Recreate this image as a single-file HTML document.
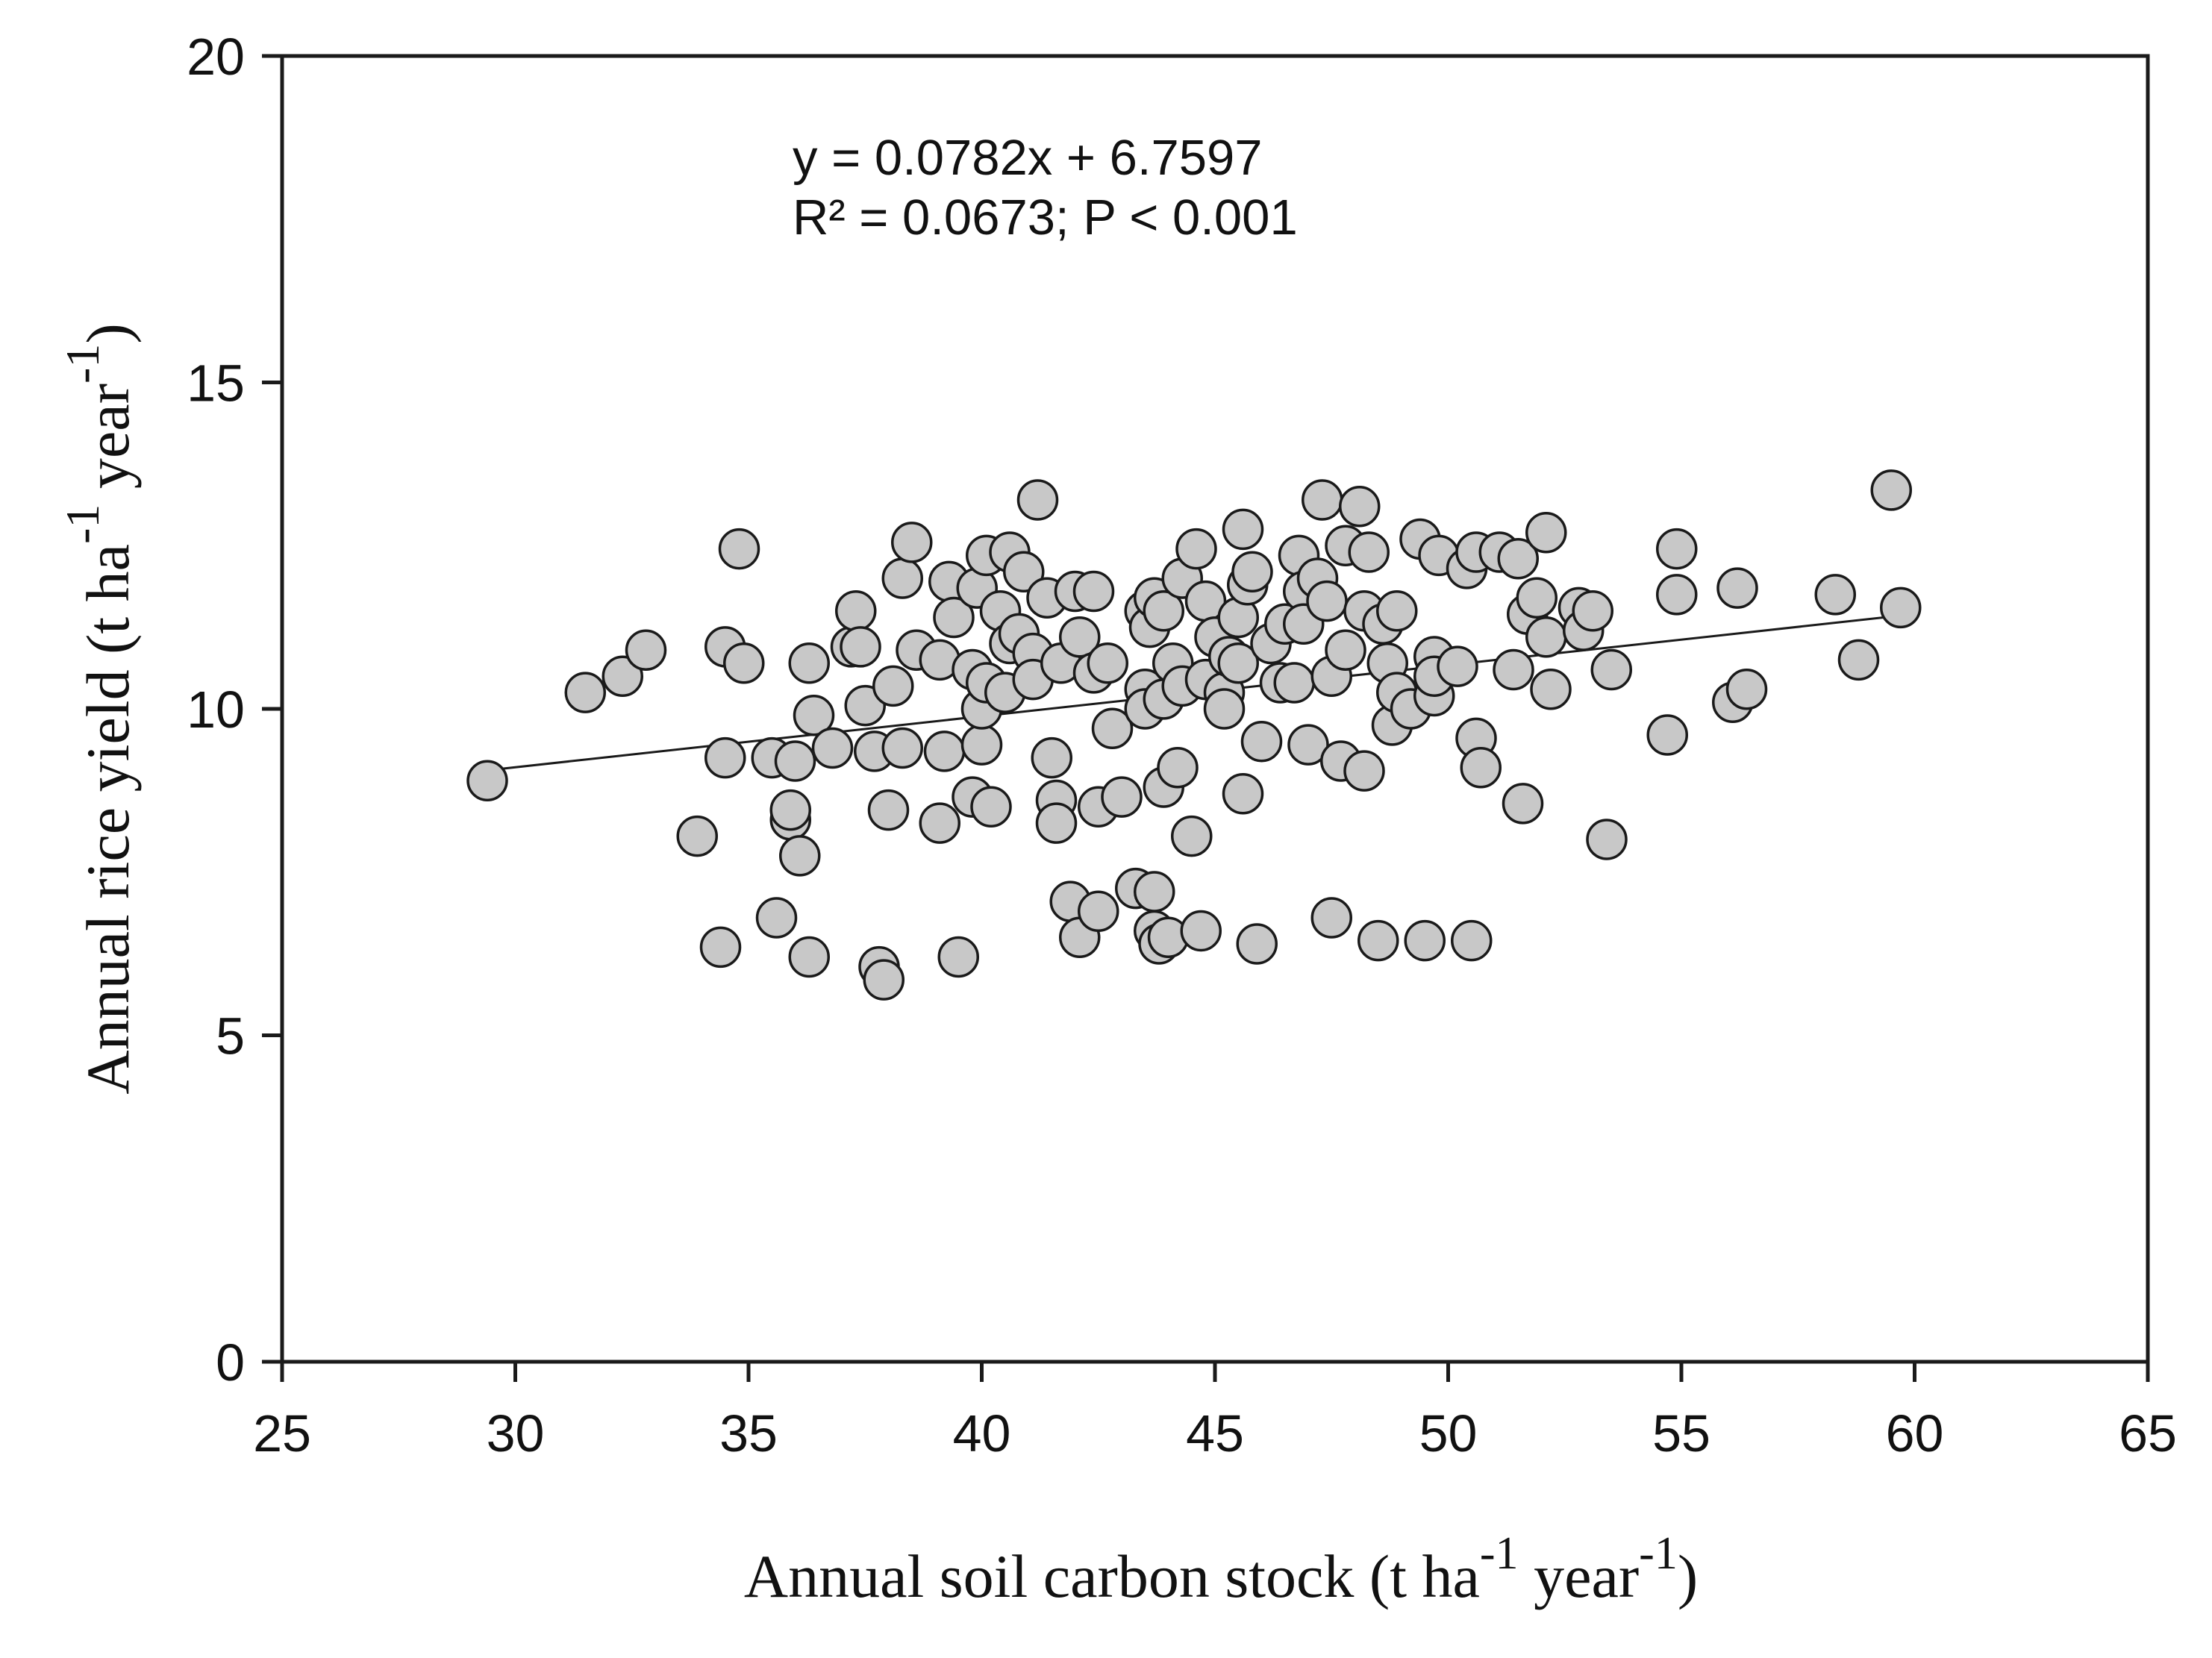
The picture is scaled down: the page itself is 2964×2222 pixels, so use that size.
<!DOCTYPE html>
<html><head><meta charset="utf-8"><style>
html,body{margin:0;padding:0;background:#fff}
svg{display:block}
</style></head><body>
<svg id="chart" width="2964" height="2222" viewBox="0 0 2964 2222" xmlns="http://www.w3.org/2000/svg">
<g id="marks"></g>
<g id="axes"></g>
<text x="1062" y="234" font-family="Liberation Sans, sans-serif" font-size="67" fill="#111">y = 0.0782x + 6.7597</text>
<text x="1062" y="314" font-family="Liberation Sans, sans-serif" font-size="67" fill="#111">R² = 0.0673; P &lt; 0.001</text>
<text transform="translate(172,950) rotate(-90)" text-anchor="middle" font-family="Liberation Serif, serif" font-size="82" fill="#111">Annual rice yield (t ha<tspan dy="-40" font-size="64">-1</tspan><tspan dy="40"> year</tspan><tspan dy="-40" font-size="64">-1</tspan><tspan dy="40">)</tspan></text>
<text x="1636" y="2140" text-anchor="middle" font-family="Liberation Serif, serif" font-size="82" fill="#111">Annual soil carbon stock (t ha<tspan dy="-38" font-size="62">-1</tspan><tspan dy="38"> year</tspan><tspan dy="-38" font-size="62">-1</tspan><tspan dy="38">)</tspan></text>
</svg>
<script>
const xTicks=[25,30,35,40,45,50,55,60,65];
const yTicks=[0,5,10,15,20];
const slope=0.0782, intercept=6.7597;
const fitRange=[29.4,59.7];
const carbon=[29.4,31.5,32.3,32.8,33.9,34.4,34.5,34.5,34.8,34.9,35.5,35.6,35.9,35.9,36.0,36.1,36.3,36.3,36.4,36.8,37.2,37.3,37.4,37.5,37.7,37.8,37.9,38.0,38.1,38.3,38.3,38.5,38.6,39.1,39.1,39.2,39.3,39.5,39.4,39.8,39.8,39.9,40.0,40.0,40.1,40.1,40.2,40.4,40.5,40.6,40.6,40.8,40.9,41.1,41.1,41.2,41.4,41.5,41.6,41.6,41.7,41.9,42.0,42.1,42.1,42.4,42.4,42.5,42.5,42.8,42.7,43.0,43.3,43.5,43.5,43.5,43.6,43.7,43.7,43.7,43.8,43.9,43.9,43.9,44.0,44.1,44.2,44.3,44.3,44.5,44.6,44.7,44.8,44.8,45.0,45.2,45.2,45.3,45.5,45.5,45.6,45.6,45.7,45.8,45.9,46.0,46.2,46.4,46.5,46.7,46.8,46.9,46.9,47.0,47.2,47.3,47.4,47.5,47.5,47.7,47.8,47.8,48.1,48.2,48.2,48.3,48.5,48.6,48.7,48.8,48.9,48.9,49.2,49.4,49.5,49.7,49.7,49.8,49.7,50.2,50.4,50.5,50.6,50.6,50.7,51.1,51.4,51.5,51.6,51.7,51.9,52.1,52.1,52.2,52.8,52.9,53.1,53.4,53.5,54.7,54.9,54.9,56.1,56.2,56.4,58.3,58.8,59.5,59.7];
const riceYield=[8.9,10.25,10.5,10.9,8.05,6.35,10.95,9.25,12.45,10.7,9.25,6.8,8.3,8.45,9.2,7.75,6.2,10.7,9.9,9.4,10.95,11.5,10.95,10.05,9.35,6.05,5.85,8.45,10.35,9.4,12.0,12.55,10.9,10.75,8.25,9.35,11.95,6.2,11.4,10.6,8.65,11.85,9.45,10.0,10.4,12.35,8.5,11.5,10.25,12.4,11.0,11.15,12.1,10.85,10.45,13.2,11.7,9.25,8.6,8.25,10.7,7.05,11.8,11.1,6.5,11.8,10.55,6.9,8.5,9.7,10.7,8.65,7.25,11.5,10.3,10.0,11.25,7.2,11.7,6.6,6.4,8.8,10.15,11.5,6.5,10.7,9.1,10.35,12.0,8.05,12.45,6.6,11.65,10.45,11.1,10.25,10.0,10.8,11.4,10.7,12.75,8.7,11.9,12.1,6.4,9.5,11.0,10.4,11.3,10.4,12.35,11.8,11.3,9.45,12.0,13.2,11.65,10.5,6.8,9.2,12.5,10.9,13.1,11.5,9.05,12.4,6.45,11.3,10.7,9.75,11.5,10.25,10.0,12.6,6.45,10.8,10.2,12.35,10.5,10.65,12.15,6.45,9.55,12.4,9.1,12.4,10.6,12.3,8.55,11.45,11.7,11.1,12.7,10.3,11.55,11.2,11.5,8.0,10.6,9.6,12.45,11.75,10.1,11.85,10.3,11.75,10.75,13.35,11.55];
const X0=378,X1=2878,Y0=1825,Y1=75;
function sx(v){return X0+(v-25)/40*(X1-X0);}
function sy(v){return Y0-v/20*(Y0-Y1);}
const NS="http://www.w3.org/2000/svg";
function mk(tag,attrs,parent){const e=document.createElementNS(NS,tag);for(const k in attrs)e.setAttribute(k,attrs[k]);parent.appendChild(e);return e;}
const axes=document.getElementById('axes'), marks=document.getElementById('marks');
const frame=mk('rect',{x:X0,y:Y1,width:X1-X0,height:Y0-Y1,fill:'none',stroke:'#1a1a1a','stroke-width':5},axes);


xTicks.forEach(t=>{
  const l=mk('line',{x1:sx(t),x2:sx(t),y1:Y0,y2:Y0+27,stroke:'#1a1a1a','stroke-width':5},axes);
  
  
  const tx=mk('text',{x:sx(t),y:Y0+120,'text-anchor':'middle','font-family':'Liberation Sans, sans-serif','font-size':70,fill:'#111'},axes);
  tx.textContent=t;
  
  
});
yTicks.forEach(t=>{
  const l=mk('line',{x1:X0-27,x2:X0,y1:sy(t),y2:sy(t),stroke:'#1a1a1a','stroke-width':5},axes);
  
  
  const tx=mk('text',{x:X0-50,y:sy(t)+25,'text-anchor':'end','font-family':'Liberation Sans, sans-serif','font-size':70,fill:'#111'},axes);
  tx.textContent=t;
  
  
});
const fit=mk('line',{x1:sx(fitRange[0]),y1:sy(slope*fitRange[0]+intercept),x2:sx(fitRange[1]),y2:sy(slope*fitRange[1]+intercept),stroke:'#1a1a1a','stroke-width':3},marks);


carbon.forEach((c,i)=>{
  const p=mk('circle',{cx:sx(c),cy:sy(riceYield[i]),r:26,fill:'#c8c8c8',stroke:'#1a1a1a','stroke-width':3.5},marks);
  
  
});
</script>
</body></html>
